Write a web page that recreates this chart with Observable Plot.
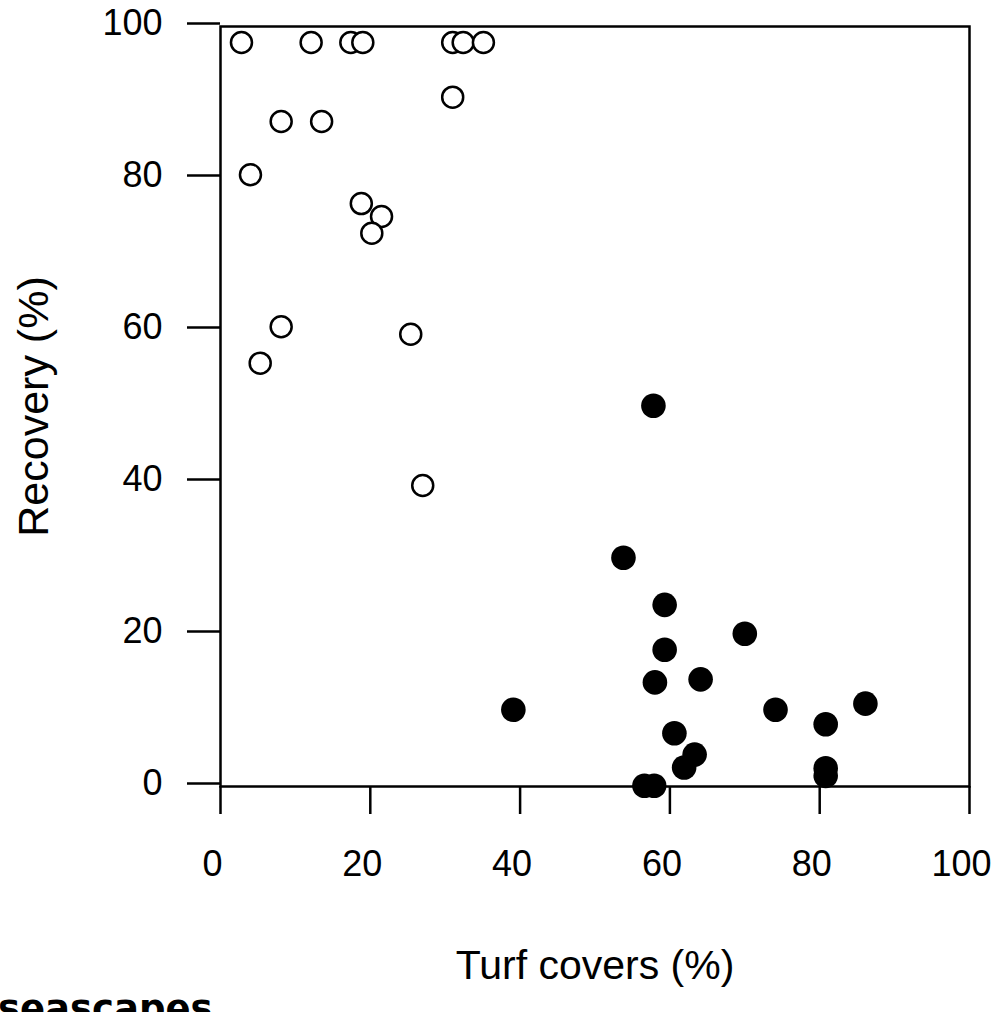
<!DOCTYPE html>
<html>
<head>
<meta charset="utf-8">
<script src="https://cdn.jsdelivr.net/npm/d3@7"></script>
<script src="https://cdn.jsdelivr.net/npm/@observablehq/plot@0.6"></script>
<style>
  html, body { margin: 0; padding: 0; background: #fff; overflow: hidden; }
  #wrap { position: relative; width: 996px; height: 1012px; }
  #caption { position: absolute; left: -2px; top: 991px; font-family: "DejaVu Sans", sans-serif; font-weight: bold; font-size: 37px; line-height: 36px; color: #000; white-space: nowrap; }
</style>
</head>
<body>
<div id="wrap"><div id="chart"></div><div id="caption">seascapes</div></div>
<script>
// Open circles (low turf cover)
const openX = [2.8, 12.1, 17.4, 19.0, 31.0, 32.4, 35.1, 31.0, 8.1, 13.5, 4.0, 18.8, 21.5, 20.2, 8.1, 25.4, 5.3, 27.0];
const openY = [97.9, 97.9, 97.9, 97.9, 97.9, 97.9, 97.9, 90.7, 87.5, 87.5, 80.5, 76.7, 75.0, 72.8, 60.5, 59.5, 55.7, 39.6];
// Filled circles (high turf cover)
const filledX = [57.8, 53.8, 59.3, 70.0, 59.3, 58.0, 64.1, 39.1, 74.1, 86.1, 80.8, 60.6, 63.3, 61.9, 80.8, 80.8, 56.6, 57.9];
const filledY = [50.1, 30.1, 23.9, 20.1, 18.0, 13.7, 14.1, 10.1, 10.1, 10.9, 8.2, 7.0, 4.2, 2.5, 2.4, 1.4, 0.1, 0.1];
const xTicks = [0, 20, 40, 60, 80, 100];
const yTicks = [0, 20, 40, 60, 80, 100];
const xLabel = "Turf covers (%)";
const yLabel = "Recovery (%)";

const openData = openX.map((x, i) => ({x, y: openY[i]}));
const filledData = filledX.map((x, i) => ({x, y: filledY[i]}));

const chart = Plot.plot({
  width: 996,
  height: 1012,
  marginLeft: 220,
  marginRight: 27,
  marginTop: 26,
  marginBottom: 226,
  style: {fontFamily: "'Liberation Sans', Arial, sans-serif", fontSize: "36px", color: "#000", background: "#fff"},
  x: {domain: [0, 100]},
  y: {domain: [0, 100]},
  marks: [
    Plot.frame({stroke: "#000", strokeWidth: 2.5}),
    // x tick marks (no labels)
    Plot.axisX({ticks: xTicks, tickSize: 28, strokeWidth: 2.5, label: null, tickFormat: () => ""}),
    // x tick labels (slightly shifted left, as in the reference)
    Plot.axisX({ticks: xTicks, tickSize: 0, tickPadding: 64, label: null, dx: -8, tickFormat: d => String(d)}),
    Plot.axisY({ticks: yTicks, tickSize: 33, tickPadding: 25, strokeWidth: 2.5, label: null, dy: -3, tickFormat: d => String(d)}),
    Plot.dot(openData, {x: "x", y: "y", r: 10.5, fill: "#fff", stroke: "#000", strokeWidth: 2.5}),
    Plot.dot(filledData, {x: "x", y: "y", r: 12.3, fill: "#000", stroke: "none"}),
    Plot.text([xLabel], {text: d => d, frameAnchor: "bottom", textAnchor: "middle", lineAnchor: "bottom", dy: 192, fontSize: 41}),
    Plot.text([yLabel], {text: d => d, frameAnchor: "left", textAnchor: "middle", lineAnchor: "middle", dx: -186, rotate: -90, fontSize: 43})
  ]
});
document.getElementById("chart").appendChild(chart);
</script>
</body>
</html>
